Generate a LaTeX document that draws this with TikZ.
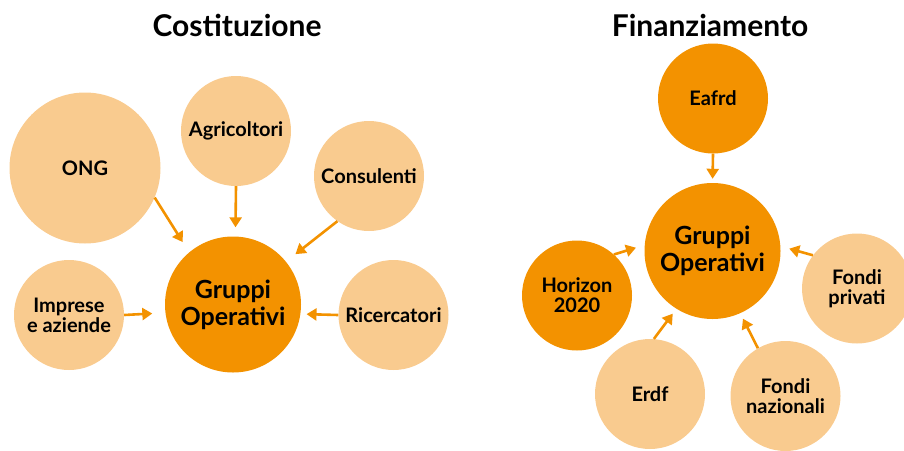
\documentclass[tikz,border=0pt]{standalone}
\usepackage{fontspec}
\setmainfont{Lato}
\usetikzlibrary{arrows.meta}
\definecolor{deeporange}{HTML}{F39200}
\definecolor{paleorange}{HTML}{F9CB8F}

\begin{document}
\begin{tikzpicture}[x=1pt, y=-1pt,
    paleball/.style={circle, fill=paleorange, inner sep=0pt, minimum size=110pt,
        align=center, font=\bfseries\fontsize{20}{20}\selectfont},
    deepball/.style={paleball, fill=deeporange},
    hub/.style={circle, fill=deeporange, inner sep=0pt, minimum size=136pt,
        align=center, font=\bfseries\fontsize{25}{27}\selectfont},
    heading/.style={font=\bfseries\fontsize{30}{30}\selectfont},
    feed/.style={-{Triangle[length=10pt,width=12pt]}, line width=2.6pt, deeporange}]
    \clip (0,0) rectangle (904,450);

    % Costituzione
    \node[heading] (cost) at (237,25) {Costituzione};
    \node[hub] (goA) at (233,304.5) {Gruppi\\Operativi};
    \node[paleball, minimum size=151pt] (ong) at (85,168) {ONG};
    \node[paleball] (agri) at (236,131) {Agricoltori};
    \node[paleball] (cons) at (369,176) {Consulenti};
    \node[paleball] (impr) at (69,315) {Imprese\\e aziende};
    \node[paleball] (ric) at (393.5,315) {Ricercatori};

    \draw[feed, shorten >=12pt] (ong.-23) -- (goA.130);
    \draw[feed, shorten >=9pt] (agri.south) -- (goA.88);
    \draw[feed, shorten >=12pt] (cons.-125) -- (goA.39);
    \draw[feed, shorten >=13pt] (impr.east) -- (goA.187);
    \draw[feed, shorten >=6pt] (ric.west) -- (goA.-8);

    % Finanziamento
    \node[heading] (fin) at (710,25) {Finanziamento};
    \node[hub] (goB) at (712.5,251) {Gruppi\\Operativi};
    \node[deepball] (eafrd) at (713,98.5) {Eafrd};
    \node[deepball] (hor) at (577,295.5) {Horizon\\2020};
    \node[paleball] (priv) at (857,288.5) {Fondi\\privati};
    \node[paleball] (erdf) at (650,394) {Erdf};
    \node[paleball] (naz) at (785.5,396) {Fondi\\nazionali};

    \draw[feed, shorten >=4pt] (eafrd.south) -- (goB.north);
    \draw[feed, shorten >=9pt] (hor.48) -- (goB.175);
    \draw[feed, shorten >=9pt] (priv.143) -- (goB.4);
    \draw[feed, shorten >=6pt] (erdf.86) -- (goB.-122);
    \draw[feed, shorten >=6pt] (naz.120) -- (goB.-66);
\end{tikzpicture}
\end{document}
